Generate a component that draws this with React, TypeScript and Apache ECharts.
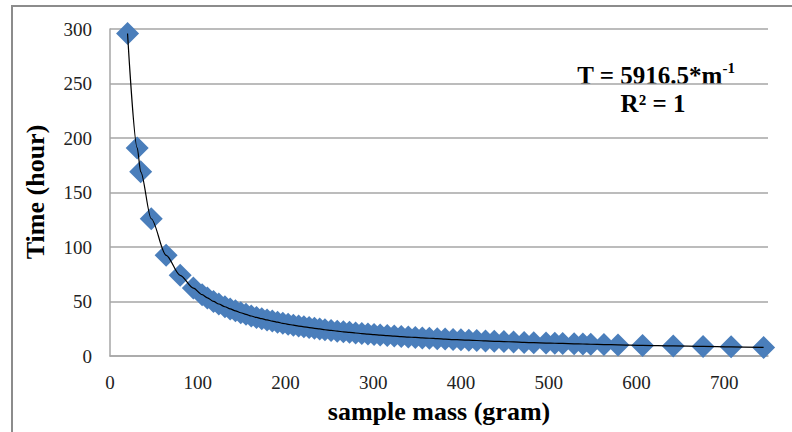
import React, { useEffect, useRef } from "react";
import * as echarts from "echarts";

const massGram = [
  20, 31, 35, 47, 64, 80,
  95, 105, 111, 118, 124,
  131, 137, 143, 149, 155,
  161, 167, 173, 179, 185,
  191, 197, 203, 209, 215,
  221, 227, 233, 239, 245,
  252, 259, 266, 273, 280,
  287, 294, 301, 308, 316,
  324, 332, 340, 348, 356,
  364, 373, 382, 391, 400,
  409, 418, 428, 438, 449,
  460, 472, 483, 497, 507,
  516, 529, 539, 548, 563,
  579, 607, 642, 676, 708,
  745,
];
const timeHour = [
  295.8, 190.9, 169.0, 125.9, 92.4, 74.0,
  62.3, 56.3, 53.3, 50.1, 47.7,
  45.2, 43.2, 41.4, 39.7, 38.2,
  36.7, 35.4, 34.2, 33.1, 32.0,
  31.0, 30.0, 29.1, 28.3, 27.5,
  26.8, 26.1, 25.4, 24.8, 24.1,
  23.5, 22.8, 22.2, 21.7, 21.1,
  20.6, 20.1, 19.7, 19.2, 18.7,
  18.3, 17.8, 17.4, 17.0, 16.6,
  16.3, 15.9, 15.5, 15.1, 14.8,
  14.5, 14.2, 13.8, 13.5, 13.2,
  12.9, 12.5, 12.2, 11.9, 11.7,
  11.5, 11.2, 11.0, 10.8, 10.5,
  10.2, 9.7, 9.2, 8.8, 8.4,
  7.9,
];
const xTitle = "sample mass (gram)";
const yTitle = "Time (hour)";

const serif = "'Liberation Serif', 'Times New Roman', serif";

export default function App() {
  const ref = useRef<HTMLDivElement>(null);
  useEffect(() => {
    if (!ref.current) return;
    const chart = echarts.init(ref.current, undefined, { renderer: "svg" });
    const pts = massGram.map((m, i) => [m, timeHour[i]]);
    chart.setOption({
      animation: false,
      backgroundColor: "#ffffff",
      grid: { left: 110, right: 24, top: 29, bottom: 76, containLabel: false },
      xAxis: {
        type: "value",
        min: 0,
        max: 750,
        interval: 100,
        axisLine: { show: true, lineStyle: { color: "#a6a6a6", width: 1.5 } },
        axisTick: { show: false },
        splitLine: { show: false },
        axisLabel: {
          showMaxLabel: false,
          margin: 17,
          color: "#222",
          fontFamily: serif,
          fontSize: 19,
        },
      },
      yAxis: {
        type: "value",
        min: 0,
        max: 300,
        interval: 50,
        axisLine: { show: true, lineStyle: { color: "#a6a6a6", width: 1.5 } },
        axisTick: { show: false },
        splitLine: { show: true, lineStyle: { color: "#a6a6a6", width: 1.5 } },
        axisLabel: {
          margin: 18,
          color: "#222",
          fontFamily: serif,
          fontSize: 19,
        },
      },
      series: [
        {
          type: "scatter",
          data: pts,
          symbol: "diamond",
          symbolSize: 23,
          itemStyle: { color: "#4a7ebb", opacity: 1 },
          z: 2,
        },
        {
          type: "line",
          data: pts,
          showSymbol: false,
          smooth: 0.3,
          smoothMonotone: "x",
          lineStyle: { color: "#000", width: 1.2 },
          z: 3,
        },
      ],
      graphic: [
        {
          type: "rect",
          shape: { x: 12, y: 6, width: 820, height: 460 },
          style: { fill: "none", stroke: "#8c8c8c", lineWidth: 2 },
          silent: true,
        },
        {
          type: "text",
          x: 35,
          y: 192,
          rotation: Math.PI / 2,
          style: {
            text: yTitle,
            font: `bold 26px ${serif}`,
            fill: "#000",
            align: "center",
            verticalAlign: "middle",
          },
        },
        {
          type: "text",
          x: 439,
          y: 411,
          style: {
            text: xTitle,
            font: `bold 26px ${serif}`,
            fill: "#000",
            align: "center",
            verticalAlign: "middle",
          },
        },
        {
          type: "text",
          x: 656,
          y: 74,
          style: {
            text: "{a|T = 5916.5*m}{s|-1}",
            rich: {
              a: { font: `bold 25px ${serif}`, fill: "#000", verticalAlign: "bottom" },
              s: { font: `bold 15px ${serif}`, fill: "#000", verticalAlign: "top", padding: [0, 0, 12, 0] },
            },
            align: "center",
            verticalAlign: "middle",
          },
        },
        {
          type: "text",
          x: 653,
          y: 103,
          style: {
            text: "R² = 1",
            font: `bold 25px ${serif}`,
            fill: "#000",
            align: "center",
            verticalAlign: "middle",
          },
        },
      ],
    });
    return () => chart.dispose();
  }, []);
  return (
    <div
      ref={ref}
      style={{ position: "fixed", left: 0, top: 0, width: 792, height: 432 }}
    />
  );
}
